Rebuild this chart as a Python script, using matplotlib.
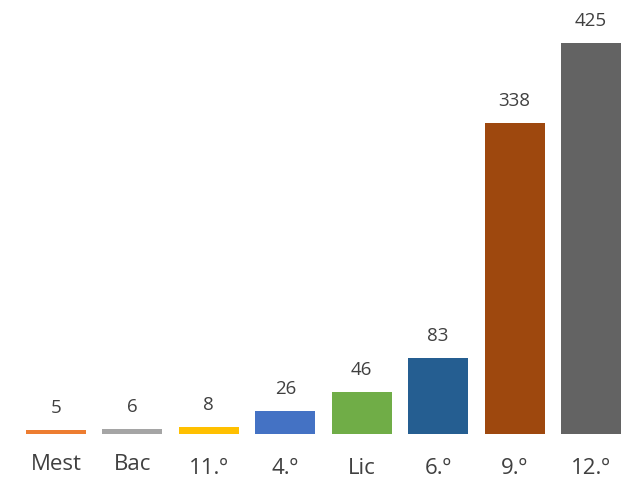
import matplotlib
matplotlib.use("Agg")
import matplotlib.pyplot as plt

categories = ["Mest", "Bac", "11.º", "4.º", "Lic", "6.º", "9.º", "12.º"]
values = [5, 6, 8, 26, 46, 83, 338, 425]
colors = ["#ED7D31", "#A5A5A5", "#FFC000", "#4472C4", "#70AD47",
          "#255E91", "#9E480E", "#636363"]

plt.rcParams["font.family"] = ["Open Sans", "DejaVu Sans"]
text_color = "#404040"

fig = plt.figure(figsize=(6.26, 4.8), dpi=100)
ax = fig.add_axes([0.0284, 0.0948, 0.9767, 0.8643])

x = list(range(len(categories)))
bars = ax.bar(x, values, width=0.785, color=colors)

# value labels above each bar
for rect, v in zip(bars, values):
    ax.annotate(str(v), (rect.get_x() + rect.get_width() / 2, v),
                xytext=(0, 12), textcoords="offset points",
                ha="center", va="baseline", fontsize=13.5, color=text_color)

# category labels under the baseline; the first two sit a little higher
for i, name in enumerate(categories):
    drop = -25.5 if i < 2 else -28.3
    ax.annotate(name, (i, 0), xytext=(0, drop), textcoords="offset points",
                ha="center", va="baseline", fontsize=16, color=text_color,
                annotation_clip=False)

ax.set_xlim(-0.5, len(categories) - 0.5)
ax.set_ylim(0, 450)
ax.set_xticks([])
ax.set_yticks([])
for s in ax.spines.values():
    s.set_visible(False)

fig.savefig("out.png", dpi=100)
